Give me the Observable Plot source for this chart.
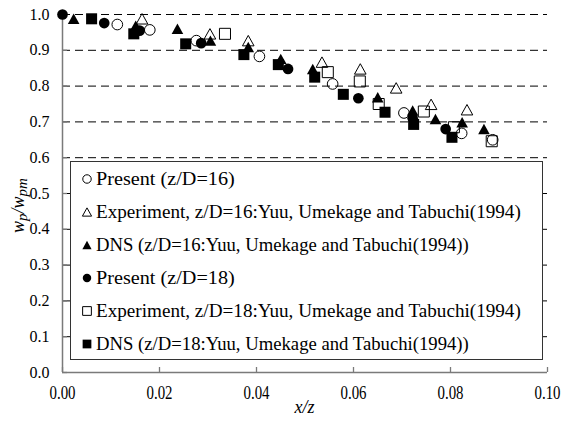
<!DOCTYPE html>
<html><head><meta charset="utf-8">
<script src="https://cdn.jsdelivr.net/npm/d3@7"></script>
<script src="https://cdn.jsdelivr.net/npm/@observablehq/plot@0.6"></script>
<style>body{margin:0;background:#fff} svg{display:block}</style>
</head><body><div id="chart"></div>
<script>
// Present (z/D=16) — open circles
const present16X = [0.0113, 0.0180, 0.0276, 0.0406, 0.0557, 0.0704, 0.0823, 0.0887];
const present16Y = [0.972, 0.957, 0.927, 0.883, 0.806, 0.725, 0.668, 0.650];
// Experiment z/D=16 — open triangles
const exp16X = [0.0164, 0.0304, 0.0383, 0.0535, 0.0614, 0.0688, 0.0760, 0.0834];
const exp16Y = [0.988, 0.946, 0.927, 0.867, 0.848, 0.795, 0.749, 0.734];
// DNS z/D=16 — filled triangles
const dns16X = [0.0023, 0.0151, 0.0237, 0.0305, 0.0383, 0.0450, 0.0516, 0.0650, 0.0722, 0.0769, 0.0824, 0.0869];
const dns16Y = [0.988, 0.969, 0.960, 0.927, 0.909, 0.876, 0.848, 0.769, 0.732, 0.708, 0.699, 0.680];
// Present (z/D=18) — filled circles
const present18X = [0.0000, 0.0086, 0.0159, 0.0286, 0.0465, 0.0610, 0.0722, 0.0790];
const present18Y = [1.000, 0.976, 0.955, 0.920, 0.848, 0.766, 0.710, 0.680];
// Experiment z/D=18 — open squares
const exp18X = [0.0335, 0.0547, 0.0613, 0.0652, 0.0745, 0.0807, 0.0885];
const exp18Y = [0.946, 0.839, 0.813, 0.750, 0.729, 0.685, 0.646];
// DNS z/D=18 — filled squares
const dns18X = [0.0060, 0.0147, 0.0254, 0.0374, 0.0445, 0.0520, 0.0579, 0.0665, 0.0724, 0.0803];
const dns18Y = [0.988, 0.946, 0.918, 0.888, 0.860, 0.825, 0.777, 0.727, 0.693, 0.657];

const xTicks = [0, 0.02, 0.04, 0.06, 0.08, 0.10];
const yTicks = [0, 0.1, 0.2, 0.3, 0.4, 0.5, 0.6, 0.7, 0.8, 0.9, 1.0];
const xTickLabels = ["0.00", "0.02", "0.04", "0.06", "0.08", "0.10"];
const yTickLabels = ["0.0", "0.1", "0.2", "0.3", "0.4", "0.5", "0.6", "0.7", "0.8", "0.9", "1.0"];
const legendLabels = [
  "Present (z/D=16)",
  "Experiment, z/D=16:Yuu, Umekage and Tabuchi(1994)",
  "DNS (z/D=16:Yuu, Umekage and Tabuchi(1994))",
  "Present (z/D=18)",
  "Experiment, z/D=18:Yuu, Umekage and Tabuchi(1994)",
  "DNS (z/D=18:Yuu, Umekage and Tabuchi(1994))"
];

const FONT = "Liberation Serif, DejaVu Serif, Times New Roman, Times, serif";

// custom symbols (bounding-box centred like the original spreadsheet markers)
const sCircle = {draw(ctx, size){ const r = Math.sqrt(size/Math.PI)*0.92; ctx.moveTo(r,0); ctx.arc(0,0,r,0,2*Math.PI); ctx.closePath(); }};
const sTri = {draw(ctx, size){ const r = Math.sqrt(size/Math.PI); ctx.moveTo(0,-r*0.9); ctx.lineTo(r, r*0.9); ctx.lineTo(-r, r*0.9); ctx.closePath(); }};
const sSq = {draw(ctx, size){ const r = Math.sqrt(size/Math.PI)*0.95; ctx.rect(-r,-r,2*r,2*r); }};

const series = [
  {xs: present16X, ys: present16Y, sym: sCircle, filled: false},
  {xs: exp16X, ys: exp16Y, sym: sTri, filled: false},
  {xs: dns16X, ys: dns16Y, sym: sTri, filled: true},
  {xs: present18X, ys: present18Y, sym: sCircle, filled: true},
  {xs: exp18X, ys: exp18Y, sym: sSq, filled: false},
  {xs: dns18X, ys: dns18Y, sym: sSq, filled: true}
];

const W = 561, H = 423, mL = 62, mR = 14, mT = 14, mB = 51;
const axisGray = "#7a7a7a";

const dotMarks = series.map(s => Plot.dot(s.xs.map((x, i) => ({x, y: s.ys[i]})), {
  x: "x", y: "y", r: 5.8, symbol: s.sym,
  fill: s.filled ? "#000" : "none",
  stroke: s.filled ? "none" : "#000",
  strokeWidth: 1
}));

const plot = Plot.plot({
  width: W, height: H,
  marginTop: mT, marginRight: mR, marginBottom: mB, marginLeft: mL,
  x: {domain: [0, 0.1]},
  y: {domain: [0, 1]},
  style: {fontFamily: FONT, background: "#fff", color: "#000"},
  marks: [
    Plot.ruleY(yTicks.filter(d => d > 0), {y: d => d, stroke: "#000", strokeWidth: 1, strokeDasharray: "8,5"}),
    Plot.ruleY([0], {stroke: axisGray, strokeWidth: 1.5}),
    Plot.ruleX([0], {stroke: axisGray, strokeWidth: 1.5}),
    Plot.tickX(xTicks, {x: d => d, stroke: axisGray, strokeWidth: 1.3, insetTop: (H - mT - mB) - 5}),
    Plot.tickY(yTicks, {y: d => d, stroke: axisGray, strokeWidth: 1.3, insetRight: (W - mL - mR) - 5}),
    Plot.axisX(xTicks, {tickSize: 0, tickPadding: 13, tickFormat: (d, i) => xTickLabels[i], fontSize: 19, fontFamily: FONT, label: null}),
    Plot.axisY(yTicks, {tickSize: 0, tickPadding: 13, tickFormat: (d, i) => yTickLabels[i], fontSize: 16, fontFamily: FONT, label: null}),
    ...dotMarks
  ]
});
document.getElementById("chart").appendChild(plot);

const svg = d3.select(plot);
svg.selectAll('[aria-label="x-axis tick label"] text').attr("textLength", 26).attr("lengthAdjust", "spacingAndGlyphs");
svg.selectAll('[aria-label="y-axis tick label"] text').attr("textLength", 20).attr("lengthAdjust", "spacingAndGlyphs");

// axis titles
svg.append("text").attr("x", (mL + W - mR) / 2).attr("y", 413).attr("text-anchor", "middle")
  .style("font-family", FONT).attr("font-style", "italic").attr("font-size", 18).text("x/z");
const yl = svg.append("text").attr("transform", "translate(24,233) rotate(-90)").attr("text-anchor", "start")
  .style("font-family", FONT).attr("font-style", "italic").attr("font-size", 18);
yl.append("tspan").text("w");
yl.append("tspan").attr("dy", 3).attr("font-size", 15).text("p");
yl.append("tspan").attr("dy", -3).text("/w");
yl.append("tspan").attr("dy", 3).attr("font-size", 15).text("pm");

// legend box
const lg = svg.append("g");
lg.append("rect").attr("x", 70.5).attr("y", 161.5).attr("width", 472).attr("height", 198)
  .attr("fill", "#fff").attr("stroke", "#333").attr("stroke-width", 1);
const rowY0 = 179, rowStep = 33, charW = 8.67;
legendLabels.forEach((lab, i) => {
  const s = series[i];
  const cy = rowY0 + i * rowStep;
  lg.append("path").attr("transform", `translate(87,${cy})`)
    .attr("d", d3.symbol(s.sym, Math.PI * 4.6 * 4.6)())
    .attr("fill", s.filled ? "#000" : "none").attr("stroke", s.filled ? "none" : "#000").attr("stroke-width", 1);
  lg.append("text").attr("x", 96).attr("y", cy).attr("dy", "0.36em").attr("text-anchor", "start")
    .style("font-family", FONT).attr("font-size", 18)
    .attr("textLength", lab.length * charW).attr("lengthAdjust", "spacingAndGlyphs")
    .text(lab);
});
</script>
</body></html>
